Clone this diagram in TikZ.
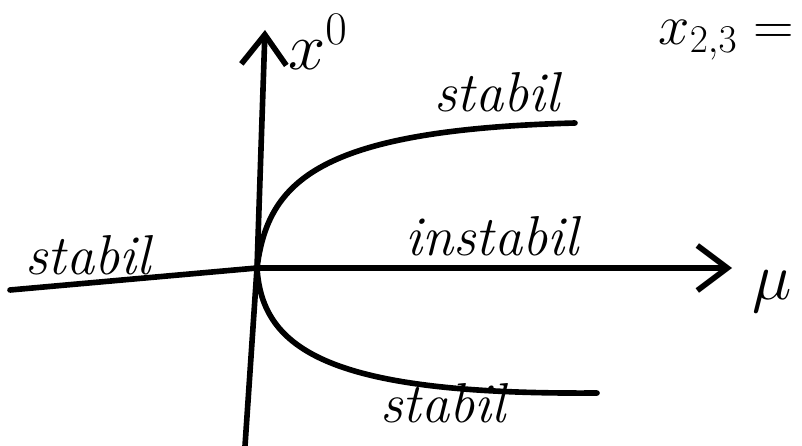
\documentclass[tikz,border=0pt]{standalone}
\usepackage{fix-cm}
\usepackage{amsmath}
\usepackage{tikz}
\usetikzlibrary{arrows.meta}
\tikzset{
  axis/.style   = {line width=3.2pt, line cap=round, line join=round},
  branch/.style = {line width=3.2pt, line cap=round},
  axtip/.style  = {-{Straight Barb[length=6mm, width=9mm]}},
  lbl/.style    = {font=\fontsize{32}{36}\selectfont\itshape, inner sep=0pt},
  mlbl/.style   = {font=\fontsize{38}{42}\selectfont, inner sep=0pt},
}

\begin{document}
\begin{tikzpicture}[x=0.02cm, y=-0.02cm]
  \useasboundingbox (0,0) rectangle (802,446);
  \coordinate (O) at (257,268);
  \coordinate (ybot) at (245,446);
  \coordinate (ytop) at (265,30);
  \coordinate (xleft) at (10,290);
  \coordinate (xright) at (732,268);
  \coordinate (upend) at (575,123);
  \coordinate (lowend) at (597,393);
  % axes
  \draw[axis, axtip] (ybot) -- (O) -- (ytop);
  \draw[axis, axtip] (xleft) -- (O) -- (xright);
  % branches x_{2,3}
  \draw[branch] (O) .. controls (268,180) and (320,130) .. (upend);
  \draw[branch] (O) .. controls (262,350) and (330,395) .. (lowend);

  \node[mlbl] (xnull) at (318,42) {$x^0$};
  \node[mlbl, font=\fontsize{32}{36}\selectfont, anchor=east] (xsol) at (794,40) {$x_{2,3} =$};
  \node[mlbl] (mu) at (772,292) {$\mu$};

  \foreach \n/\x/\y/\t in {sleft/88/255/stabil, stop/497/92/stabil, inst/492/236/instabil, sbot/443/403/stabil}
    \node[lbl] (\n) at (\x,\y) {\t};
\end{tikzpicture}
\end{document}
